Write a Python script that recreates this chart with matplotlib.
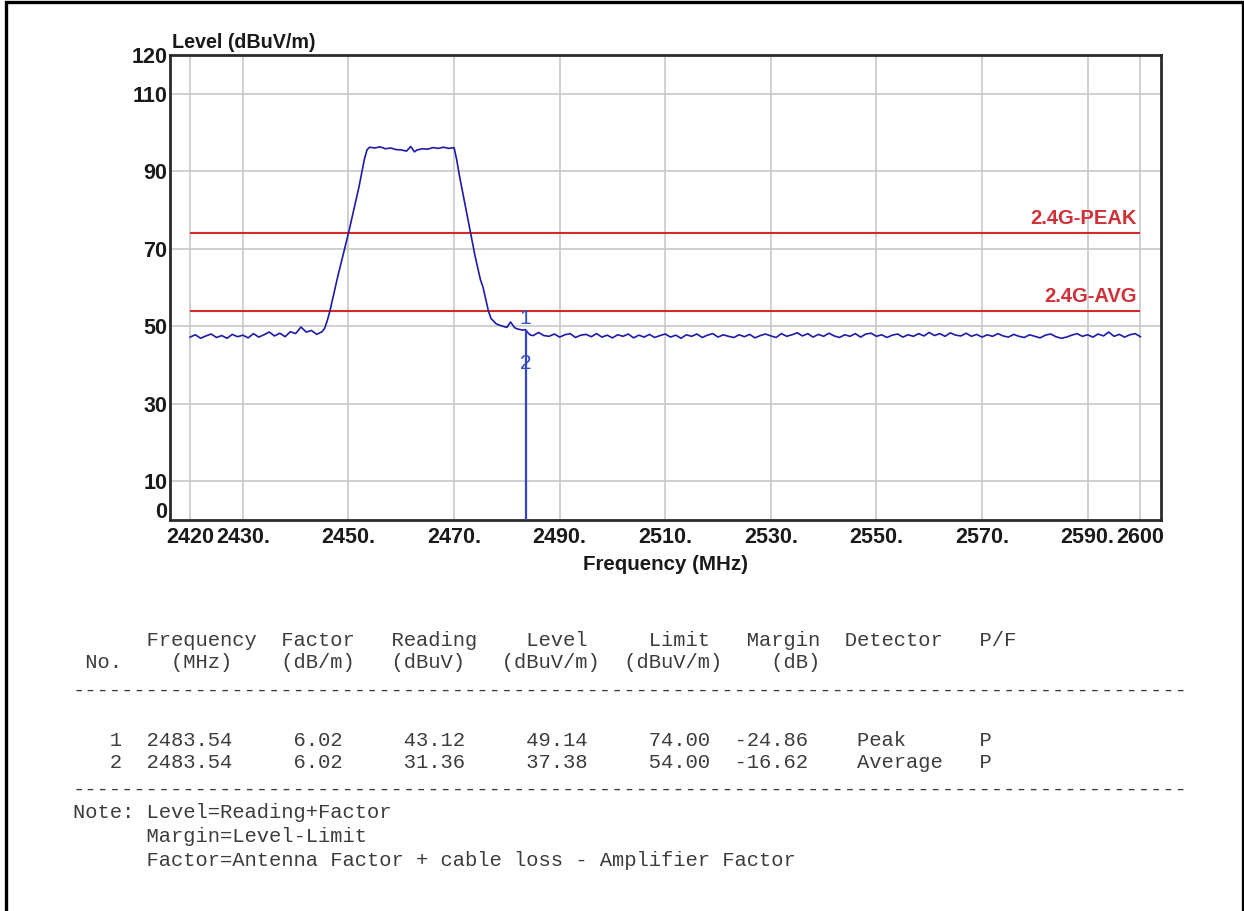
import matplotlib.pyplot as plt
from matplotlib.patches import Rectangle
from matplotlib.transforms import ScaledTranslation

# spectrum trace (MHz, dBuV/m)
freq_left = list(range(2420, 2446))
level_left = [47.2, 47.8, 46.9, 47.5, 48.0, 47.1, 47.6, 46.9, 47.9, 47.3,
              47.7, 47.0, 48.1, 47.2, 47.8, 48.5, 47.5, 48.2, 47.3, 48.6,
              48.1, 49.8, 48.5, 48.9, 47.9, 48.6]
freq_mid = [2445.5, 2446, 2446.5, 2447, 2448, 2449, 2450, 2451, 2452, 2452.5,
            2453, 2453.5, 2454, 2455, 2456, 2457, 2458, 2459, 2460, 2461,
            2461.8, 2462.5, 2463, 2464, 2465, 2466, 2467, 2468, 2469, 2470,
            2470.5, 2471, 2472, 2473, 2474, 2475, 2475.5, 2476, 2476.5, 2477,
            2477.5, 2478, 2479, 2480, 2480.7, 2481.5, 2482, 2483, 2483.54, 2484,
            2484.5]
level_mid = [49.5, 51.5, 54.0, 57.0, 63.0, 68.5, 74.0, 80.0, 86.0, 89.5,
             93.0, 95.5, 96.2, 96.0, 96.3, 95.8, 96.0, 95.6, 95.5, 95.2,
             96.4, 95.0, 95.5, 95.8, 95.7, 96.1, 95.9, 96.2, 95.9, 96.1,
             93.0, 89.0, 82.0, 75.0, 68.0, 62.0, 60.0, 57.0, 54.0, 52.0,
             51.3, 50.6, 50.1, 49.7, 51.1, 49.6, 49.3, 49.0, 49.14, 48.3,
             47.7]
freq_right = list(range(2485, 2601))
level_right = [47.6, 48.4, 47.6, 47.4, 48.0, 47.2, 47.8, 48.1, 47.1, 47.7,
               47.9, 47.3, 48.1, 47.2, 47.7, 47.0, 47.8, 47.4, 48.0, 47.0,
               47.7, 47.2, 47.9, 47.1, 47.6, 48.0, 47.2, 47.7, 46.9, 47.8,
               47.4, 48.0, 47.1, 47.7, 48.1, 47.2, 47.8, 47.4, 47.1, 47.8,
               47.3, 47.9, 47.0, 47.6, 48.0, 47.5, 47.1, 48.1, 47.4, 47.8,
               48.3, 47.5, 48.1, 47.2, 47.9, 47.4, 48.2, 47.5, 47.1, 47.8,
               47.4, 48.1, 47.2, 48.0, 48.2, 47.4, 47.8, 47.1, 47.7, 48.0,
               47.2, 47.8, 47.4, 48.1, 47.5, 48.4, 47.6, 48.1, 47.4, 48.3,
               47.7, 47.5, 48.2, 47.4, 47.9, 47.2, 47.8, 47.4, 48.1, 47.5,
               47.2, 47.9, 47.4, 47.1, 47.8, 47.4, 47.0, 47.7, 48.0, 47.3,
               46.9, 47.2, 47.7, 48.1, 47.4, 47.8, 47.2, 48.0, 47.5, 48.5,
               47.4, 47.9, 47.2, 47.8, 48.1, 47.3]

limit_levels = [74, 54]
limit_names = ['2.4G-PEAK', '2.4G-AVG']

# marker table
marker_no = [1, 2]
marker_freq = [2483.54, 2483.54]
factor = [6.02, 6.02]
reading = [43.12, 31.36]
level = [49.14, 37.38]
limit = [74.00, 54.00]
margin = [-24.86, -16.62]
detector = ['Peak', 'Average']
pf = ['P', 'P']

head1 = [(6, 'Frequency'), (17, 'Factor'), (26, 'Reading'), (37, 'Level'),
         (47, 'Limit'), (55, 'Margin'), (63, 'Detector'), (74, 'P/F')]
head2 = [(1, 'No.'), (8, '(MHz)'), (17, '(dB/m)'), (26, '(dBuV)'),
         (35, '(dBuV/m)'), (45, '(dBuV/m)'), (57, '(dB)')]
row_cols = [3, 6, 18, 27, 37, 47, 54, 64, 74]
notes = ['Note: Level=Reading+Factor',
         '      Margin=Level-Limit',
         '      Factor=Antenna Factor + cable loss - Amplifier Factor']

xticks = [2420, 2430, 2450, 2470, 2490, 2510, 2530, 2550, 2570, 2590, 2600]
xlabels = ['2420', '2430.', '2450.', '2470.', '2490.', '2510.', '2530.',
           '2550.', '2570.', '2590.', '2600']
yticks = [0, 10, 30, 50, 70, 90, 110, 120]

W, H = 1244, 911
fig = plt.figure(figsize=(W / 100, H / 100), dpi=100)
fig.patch.set_facecolor('white')
fig.patches.append(Rectangle((6 / W, -0.01), 1237 / W, 1.0 - 1.5 / H + 0.01,
                             transform=fig.transFigure, fill=False,
                             edgecolor='black', linewidth=2.4))

ax = fig.add_axes([170 / W, 1 - 520 / H, 991 / W, 465 / H])
ax.set_xlim(2416.2, 2603.9)
ax.set_ylim(0, 120)

gcol = '#c8c8c8'
for x in xticks:
    ax.axvline(x, color=gcol, lw=1.2, zorder=0)
for y in [10, 30, 50, 70, 90, 110]:
    ax.axhline(y, color=gcol, lw=1.2, zorder=0)

for lv, name in zip(limit_levels, limit_names):
    ax.hlines(lv, 2420, 2600, color='#d42a2a', lw=1.5, zorder=2)
    ax.text(2599.3, lv + 1.3, name, ha='right', va='bottom', color='#d03038',
            fontsize=14.5, fontweight='bold', family='Liberation Sans')

freq = freq_left + freq_mid + freq_right
trace = level_left + level_mid + level_right
ax.plot(freq, trace, color='#1c1ca8', lw=1.2, zorder=3)

ax.vlines(marker_freq[0], 0, level[0], color='#3344cc', lw=1.6, zorder=3)
for n, f, lv in zip(marker_no, marker_freq, level):
    ax.text(f, lv + 0.5, str(n), ha='center', va='bottom', color='#3050c0',
            fontsize=15, family='Liberation Sans')

for sp in ax.spines.values():
    sp.set_color('#2a2a2a')
    sp.set_linewidth(2)

ax.set_xticks(xticks)
ax.set_xticklabels(xlabels)
ax.set_yticks(yticks)
ax.set_yticklabels([str(v) for v in yticks])
ax.tick_params(length=0, labelsize=15.5, colors='#1a1a1a')
ax.tick_params(axis='y', pad=2)
ax.tick_params(axis='x', pad=5)
for lab in ax.get_xticklabels() + ax.get_yticklabels():
    lab.set_fontweight('bold')
    lab.set_family('Liberation Sans')
ylabs = ax.get_yticklabels()
ylabs[0].set_transform(ylabs[0].get_transform() +
                       ScaledTranslation(0, 0.1, fig.dpi_scale_trans))

ax.set_xlabel('Frequency (MHz)', fontsize=14.8, fontweight='bold',
              family='Liberation Sans', labelpad=5, color='#1a1a1a')
fig.text(172 / W, 1 - 42 / H, 'Level (dBuV/m)', ha='left', va='center',
         fontsize=14.2, fontweight='bold', family='Liberation Sans',
         color='#1a1a1a')


def place(cells):
    line = ''
    for col, txt in cells:
        line = line.ljust(col) + txt
    return line


rows = []
for i in range(len(marker_no)):
    vals = [str(marker_no[i]), f'{marker_freq[i]:.2f}', f'{factor[i]:.2f}',
            f'{reading[i]:.2f}', f'{level[i]:.2f}', f'{limit[i]:.2f}',
            f'{margin[i]:.2f}', detector[i], pf[i]]
    rows.append(place(list(zip(row_cols, vals))))

dashes = '-' * 91
lines = [place(head1), place(head2), dashes] + rows + [dashes] + notes
ypix = [640, 663, 690, 740, 763, 789, 813, 837, 861]
for txt, yp in zip(lines, ypix):
    fig.text(73 / W, 1 - yp / H, txt, ha='left', va='center',
             family='Liberation Mono', fontsize=14.8, color='#3c3c3c')

fig.savefig('out.png', dpi=100)
